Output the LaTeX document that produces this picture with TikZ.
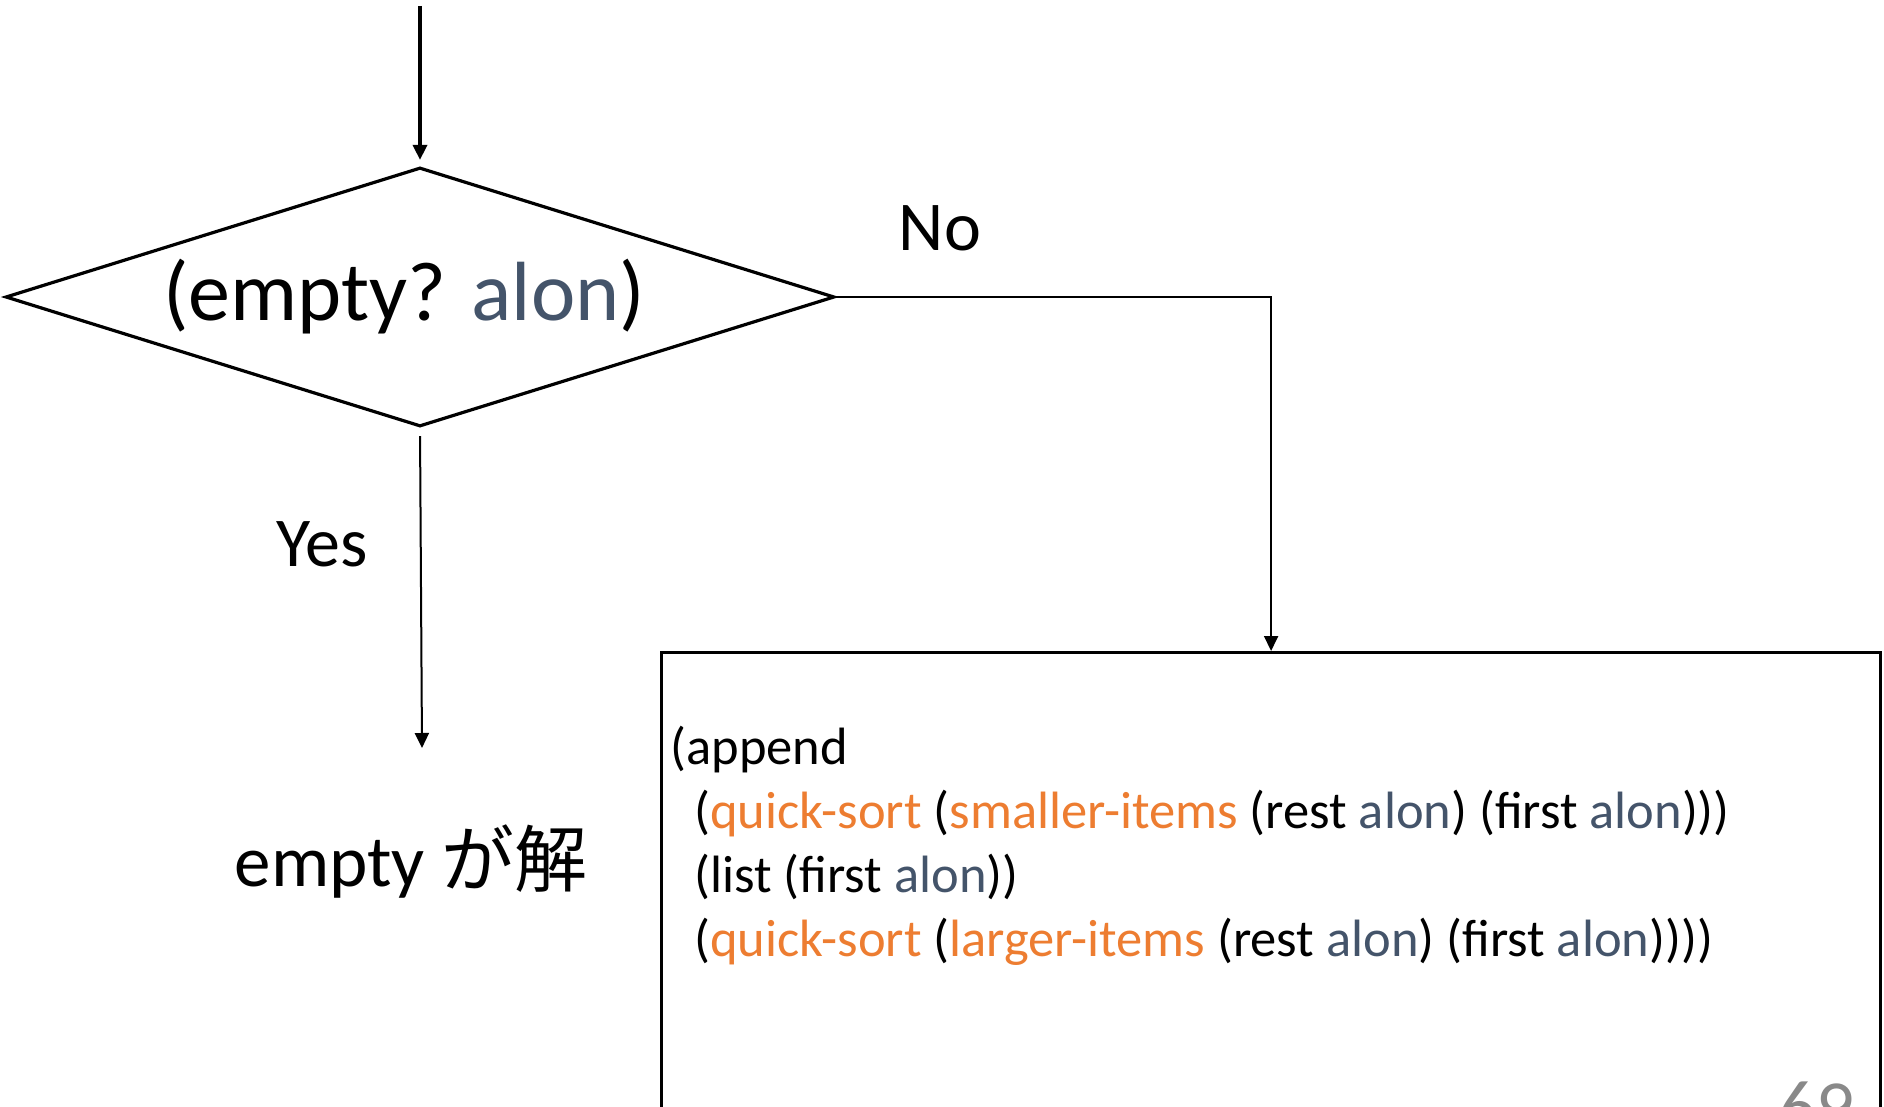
\documentclass[tikz,border=0pt]{standalone}
\usepackage{fontspec}
\setmainfont{Carlito}
\newfontfamily\jpfont{Noto Sans CJK JP}
\usetikzlibrary{shapes.geometric,positioning,arrows.meta}
\definecolor{alongray}{HTML}{44546A}
\definecolor{fnorange}{HTML}{ED7D31}
\definecolor{pagegray}{HTML}{898989}
\newcommand{\alon}{\textcolor{alongray}{alon}}
\newcommand{\fn}[1]{\textcolor{fnorange}{#1}}

\begin{document}
\begin{tikzpicture}[x=0.5pt, y=-0.5pt,
    flow/.style={line width=1pt, -{Triangle[length=7.5pt, width=7pt]}},
    branchlabel/.style={font=\fontsize{35}{42}\selectfont}]
    \clip (0,0) rectangle (1884,1107);

    % entry
    \coordinate (entry) at (420,6);

    % (empty? alon)
    \node (test) [draw, diamond, line width=1.6pt, aspect=3.2, inner sep=0pt,
                  minimum width=414.5pt, minimum height=129.5pt,
                  font=\fontsize{42}{50}\selectfont] at (420,297)
        {(empty? \alon)\kern16pt};

    \draw [flow, line width=1.75pt, shorten >=3pt] (entry) -- (test.north);

    % Yes branch
    \coordinate (yesend) at (422,748);
    \node (yes) [branchlabel] at (322,544) {Yes};
    \draw [flow, shorten <=4pt] (test.south) -- (yesend);
    \node (base) [font=\fontsize{36.5}{44}\selectfont] at (411,861) {empty {\jpfont が解}};

    % No branch
    \node (recur) [draw, line width=1.6pt, minimum width=609.5pt, minimum height=280pt,
                   anchor=north west] at (660,651) {};
    \node (no) [branchlabel] at (940,228) {No};
    \draw [flow] (test.east) -| (recur.north);

    % recursive case
    \node (code) [anchor=base west, align=left, inner sep=0pt,
                  font=\fontsize{26.25}{32}\selectfont] at (670,956)
    {(append\\
     \hspace*{12pt}(\fn{quick-sort} (\fn{smaller-items} (rest \alon) (first \alon)))\\
     \hspace*{12pt}(list (first \alon))\\
     \hspace*{12pt}(\fn{quick-sort} (\fn{larger-items} (rest \alon) (first \alon))))};

    % page number
    \node (pagenum) [anchor=base, text=pagegray, font=\fontsize{37.5}{45}\selectfont] at (1816,1132) {69};
\end{tikzpicture}
\end{document}
